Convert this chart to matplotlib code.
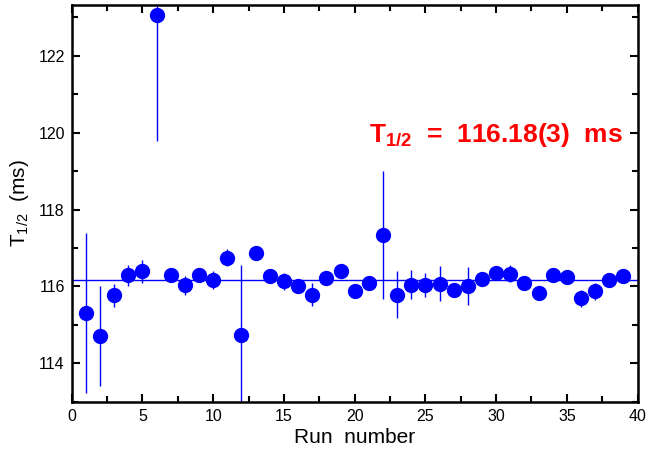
import matplotlib
matplotlib.use("Agg")
import matplotlib.pyplot as plt
from matplotlib.ticker import MultipleLocator

plt.rcParams['font.family'] = ['Liberation Sans', 'DejaVu Sans']
plt.rcParams['mathtext.fontset'] = 'custom'
plt.rcParams['mathtext.rm'] = 'Liberation Sans'
plt.rcParams['mathtext.bf'] = 'Liberation Sans:bold'

# half-life per run (ms) and its uncertainty
runs = list(range(1, 40))
t_half = [115.32, 114.70, 115.77, 116.29, 116.39, 123.05, 116.29, 116.03, 116.31, 116.16,
          116.75, 114.73, 116.86, 116.27, 116.14, 116.01, 115.79, 116.21, 116.40, 115.88,
          116.10, 117.33, 115.79, 116.05, 116.03, 116.07, 115.92, 116.01, 116.20, 116.34,
          116.33, 116.10, 115.84, 116.30, 116.24, 115.69, 115.88, 116.16, 116.26]
t_err = [2.08, 1.30, 0.30, 0.28, 0.30, 3.28, 0.15, 0.25, 0.15, 0.23,
         0.23, 1.82, 0.15, 0.15, 0.22, 0.15, 0.30, 0.15, 0.15, 0.15,
         0.15, 1.66, 0.62, 0.38, 0.31, 0.45, 0.18, 0.50, 0.15, 0.15,
         0.22, 0.15, 0.15, 0.15, 0.15, 0.22, 0.22, 0.15, 0.15]
mean_t = 116.18

fig = plt.figure(figsize=(6.46, 4.5), dpi=100)
ax = fig.add_axes([0.111, 0.107, 0.876, 0.882])

ax.axhline(mean_t, color='#0000ff', lw=1.0, zorder=1)
ax.errorbar(runs, t_half, yerr=t_err, fmt='o', color='#0000ff', ms=10,
            elinewidth=1.0, capsize=0, zorder=2)

ax.set_xlim(0, 40)
ax.set_ylim(113.0, 123.32)
ax.xaxis.set_major_locator(MultipleLocator(5))
ax.xaxis.set_minor_locator(MultipleLocator(2.5))
ax.yaxis.set_major_locator(MultipleLocator(2))
ax.yaxis.set_minor_locator(MultipleLocator(1))
ax.tick_params(which='both', direction='in', top=True, right=True, width=1.5,
               labelsize=11.5, pad=5)
ax.tick_params(which='major', length=6)
ax.tick_params(which='minor', length=4.5)
for s in ax.spines.values():
    s.set_linewidth(1.8)

ax.set_xlabel('Run  number', fontsize=15, labelpad=3)
ax.set_ylabel(r'T$_{1/2}$  (ms)', fontsize=15, labelpad=5)

ax.text(0.526, 0.672, r'$\mathbf{T_{1/2}}$  =  116.18(3)  ms', transform=ax.transAxes,
        color='#ff0000', fontsize=19, fontweight='bold', ha='left', va='center')

fig.savefig('out.png', dpi=100)
